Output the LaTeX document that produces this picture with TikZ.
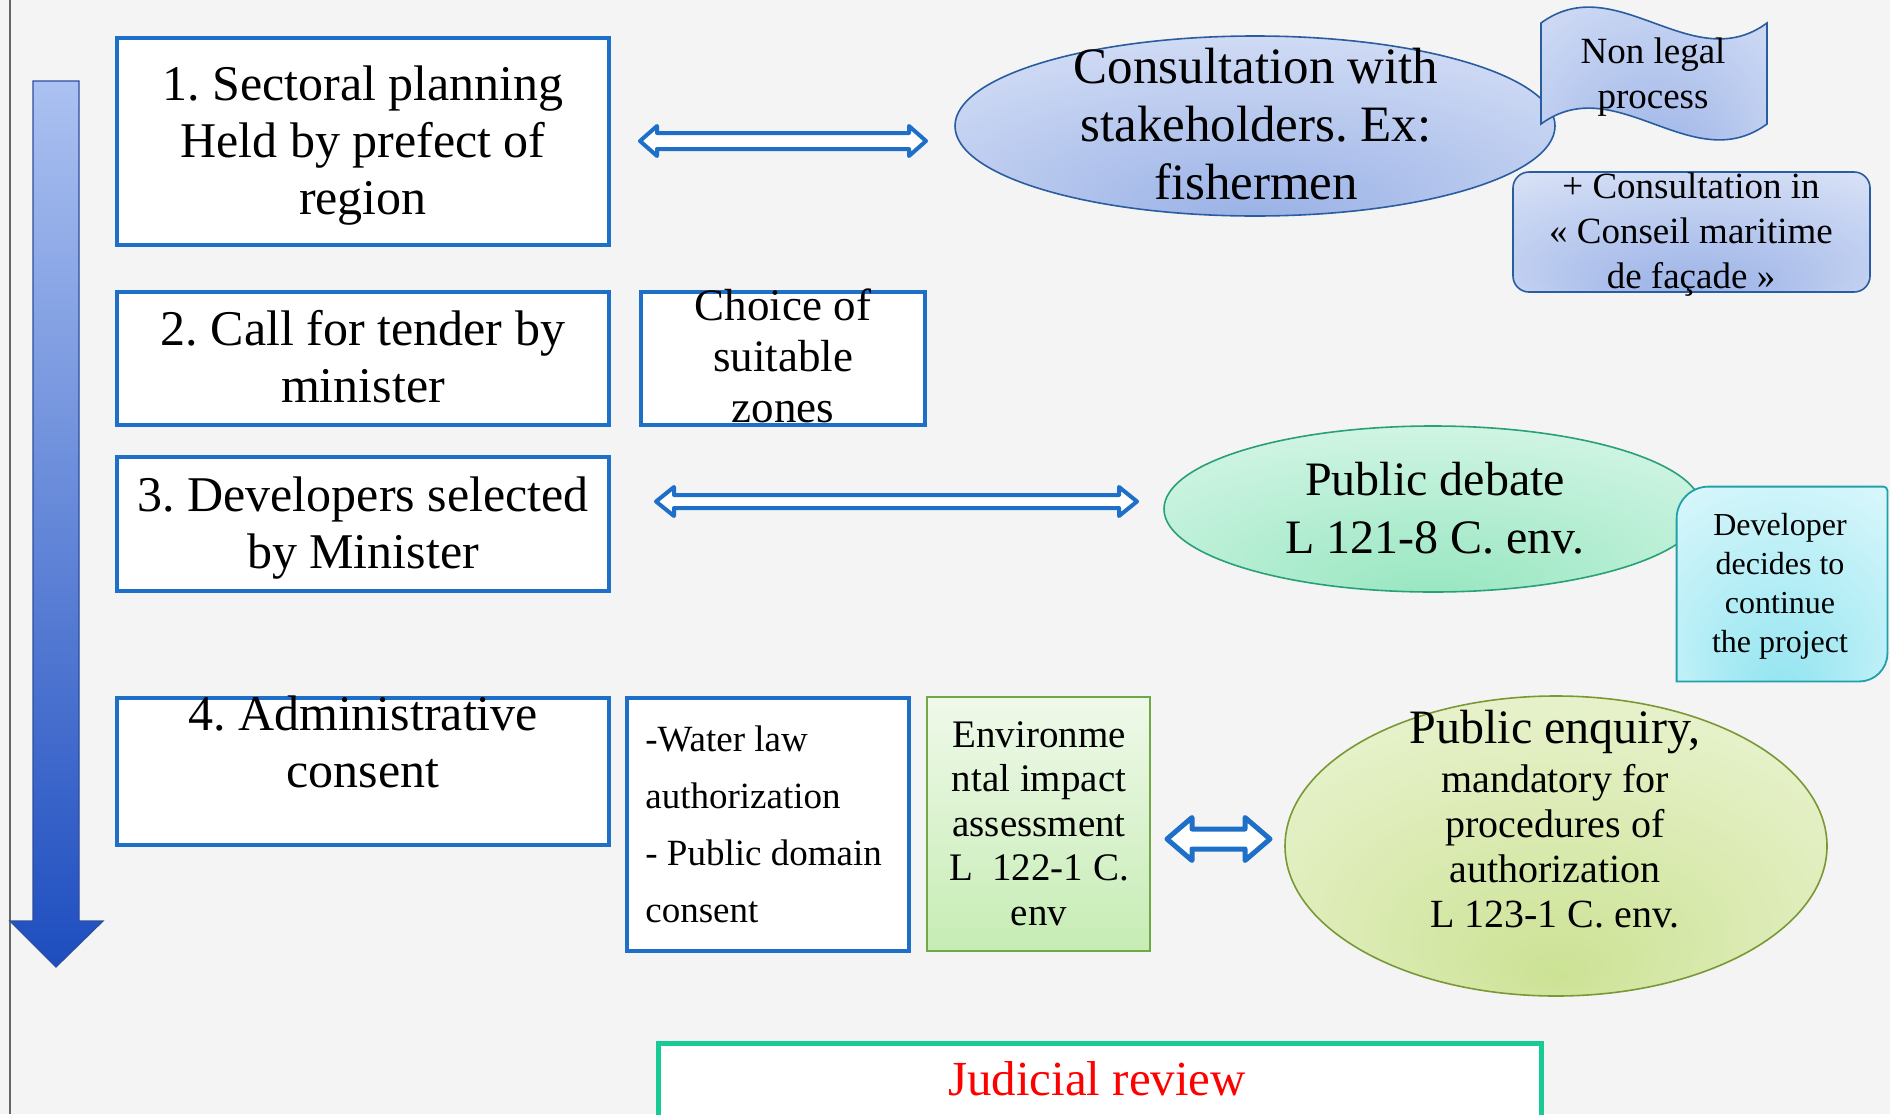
\documentclass[tikz,border=0pt]{standalone}
\usepackage{fontspec}
\setmainfont{Liberation Serif}
\usetikzlibrary{calc,shapes.geometric}
\definecolor{bgc}{RGB}{244,244,244}
\definecolor{boxblue}{RGB}{30,111,200}
\definecolor{arrtop}{RGB}{171,193,241}
\definecolor{arrbot}{RGB}{29,77,191}
\definecolor{arrline}{RGB}{43,78,158}
\definecolor{cblue}{RGB}{42,93,160}
\definecolor{cbin}{RGB}{152,176,230}
\definecolor{cbout}{RGB}{234,239,251}
\definecolor{pdline}{RGB}{40,160,120}
\definecolor{pdin}{RGB}{150,230,192}
\definecolor{pdout}{RGB}{234,251,243}
\definecolor{devline}{RGB}{32,160,170}
\definecolor{devin}{RGB}{145,228,240}
\definecolor{devout}{RGB}{236,252,254}
\definecolor{peline}{RGB}{122,152,52}
\definecolor{pein}{RGB}{204,226,148}
\definecolor{peout}{RGB}{245,250,232}
\definecolor{eialine}{RGB}{112,168,70}
\definecolor{eiatop}{RGB}{239,249,234}
\definecolor{eiabot}{RGB}{198,236,180}
\definecolor{jrline}{RGB}{24,203,150}
\pgfdeclareradialshading{shblue}{\pgfpoint{0bp}{-28bp}}{color(0bp)=(cbin); color(50bp)=(cbout)}
\pgfdeclareradialshading{shpd}{\pgfpoint{0bp}{-28bp}}{color(0bp)=(pdin); color(50bp)=(pdout)}
\pgfdeclareradialshading{shdev}{\pgfpoint{0bp}{-30bp}}{color(0bp)=(devin); color(50bp)=(devout)}
\pgfdeclareradialshading{shpe}{\pgfpoint{0bp}{-22bp}}{color(0bp)=(pein); color(50bp)=(peout)}
\newcommand\dblarrow[5]{%
  \draw[dblarr] (#1) -- ($(#1)+(#5,-#4)$) -- ($(#1)+(#5,-#3)$) -- ($(#2)+(-#5,-#3)$)
    -- ($(#2)+(-#5,-#4)$) -- (#2) -- ($(#2)+(-#5,#4)$) -- ($(#2)+(-#5,#3)$)
    -- ($(#1)+(#5,#3)$) -- ($(#1)+(#5,#4)$) -- cycle;}
\frenchspacing
\begin{document}
\begin{tikzpicture}[x=0.5pt,y=-0.5pt,
  stage/.style={rectangle, draw=boxblue, line width=2pt, fill=white, inner sep=0pt},
  bluefill/.style={draw=cblue, line width=0.8pt, shade, shading=shblue},
  dblarr/.style={draw=boxblue, line width=2pt, fill=white, line join=round},
  txt/.style={inner sep=0pt, anchor=base, align=center},
  fbig/.style={font=\fontsize{25}{28.5}\selectfont},
]
\useasboundingbox (0,0) rectangle (1890,1114);
\clip (0,0) rectangle (1890,1114);
\fill[bgc] (0,0) rectangle (1890,1114);
\draw[black!60, line width=0.8pt] (10,0) -- (10,1114);

% big downward arrow
\path[shade, top color=arrtop, bottom color=arrbot, draw=arrline, line width=0.6pt]
  (33,81) -- (79,81) -- (79,921) -- (103,921) -- (56,967) -- (10,921) -- (33,921) -- cycle;

% stage boxes
\node[stage, minimum width=246pt, minimum height=103.5pt] (s1) at (363,141.5) {};
\node[stage, minimum width=246pt, minimum height=66.5pt] (s2) at (363,358.5) {};
\node[stage, minimum width=142pt, minimum height=66.5pt] (choice) at (783,358.5) {};
\node[stage, minimum width=246pt, minimum height=67pt] (s3) at (363,524) {};
\node[stage, minimum width=246pt, minimum height=73.5pt] (s4) at (363,771.5) {};
\node[stage, minimum width=141pt, minimum height=126.5pt] (water) at (768,824.5) {};
\node[rectangle, draw=eialine, line width=1pt, top color=eiatop, bottom color=eiabot,
  minimum width=111.5pt, minimum height=127pt, inner sep=0pt] (eia) at (1038.5,824) {};
\node[rectangle, draw=jrline, line width=2.5pt, fill=white,
  minimum width=441.5pt, minimum height=48.5pt, inner sep=0pt] (jr) at (1099.5,1091.5) {};

% ellipses
\node[ellipse, bluefill, minimum width=300pt, minimum height=90pt, inner sep=0pt] (cons) at (1255,126) {};
\node[ellipse, draw=pdline, line width=0.8pt, shade, shading=shpd,
  minimum width=269pt, minimum height=83pt, inner sep=0pt] (pd) at (1433,509) {};
\node[ellipse, draw=peline, line width=0.8pt, shade, shading=shpe,
  minimum width=271pt, minimum height=150pt, inner sep=0pt] (pe) at (1556,846) {};

% wave "Non legal process"
\path[bluefill] (1541,23) .. controls (1616,-32) and (1692,78) .. (1767,23)
  -- (1767,124) .. controls (1692,179) and (1616,69) .. (1541,124) -- cycle;

% rounded box "Conseil maritime"
\node[rectangle, rounded corners=8pt, bluefill, minimum width=178.5pt, minimum height=60pt,
  inner sep=0pt] (cin) at (1691.5,232) {};

% developer box
\node[minimum width=105pt, minimum height=97pt, inner sep=0pt] (dev) at (1782,584) {};
\path[draw=devline, line width=0.9pt, shade, shading=shdev]
  (dev.south west) -- ($(dev.north west)+(0,32)$) arc[start angle=180, end angle=90, radius=16pt]
  -- ($(dev.north east)+(-4,0)$) arc[start angle=90, end angle=0, radius=2pt]
  -- ($(dev.south east)+(0,-28)$) arc[start angle=0, end angle=-90, radius=14pt] -- cycle;

% double arrows
\coordinate (a1l) at (640,141);
\coordinate (a1r) at (926,141);
\coordinate (a2l) at (656,501.5);
\coordinate (a2r) at (1137,501.5);
\coordinate (a3l) at (1167,839);
\coordinate (a3r) at (1270,839);
\dblarrow{a1l}{a1r}{8}{15}{17}
\dblarrow{a2l}{a2r}{6.5}{14.5}{18}
\begin{scope}[dblarr/.append style={line width=2.5pt}]
\dblarrow{a3l}{a3r}{10}{21.5}{25}
\end{scope}

% texts (anchor base = baseline of the last line)
\node[txt, fbig] (t1) at (363,214) {1. Sectoral planning\\Held by prefect of\\region};
\node[txt, fbig] (t2) at (363,402) {2. Call for tender by\\minister};
\node[txt, font=\fontsize{22.5}{25.5}\selectfont] (tchoice) at (783,422) {Choice of\\suitable\\zones};
\node[txt, fbig] (t3) at (363,568) {3. Developers selected\\by Minister};
\node[txt, fbig] (t4) at (363,787) {4. Administrative\\consent};
\node[inner sep=0pt, anchor=base west, align=left, font=\fontsize{18.5}{28.5}\selectfont] (twater) at (645,922)
  {-Water law\\authorization\\- Public domain\\consent};
\node[txt, font=\fontsize{19.5}{22.25}\selectfont] (teia) at (1039,925)
  {Environme\\ntal impact\\assessment\\L\ \ 122-1 C.\\env};
\node[txt, font=\fontsize{25.5}{29}\selectfont] (tcons) at (1256,199)
  {Consultation with\\stakeholders. Ex:\\fishermen};
\node[txt, font=\fontsize{18.5}{22.5}\selectfont] (tnl) at (1653,108) {Non legal\\process};
\node[txt, font=\fontsize{18.5}{22.5}\selectfont] (tcin) at (1691,288)
  {+ Consultation in\\« Conseil maritime\\de façade »};
\node[txt, font=\fontsize{24}{29}\selectfont] (tpd) at (1435,553) {Public debate\\L 121-8 C. env.};
\node[txt, font=\fontsize{16}{19.5}\selectfont] (tdev) at (1780,652)
  {Developer\\decides to\\continue\\the project};
\node[txt, font=\fontsize{24}{29}\selectfont] (tpe1) at (1555,743) {Public enquiry,};
\node[txt, font=\fontsize{20}{22.5}\selectfont] (tpe2) at (1555,927)
  {mandatory for\\procedures of\\authorization\\L 123-1 C. env.};
\node[txt, text=red, font=\fontsize{24.5}{29}\selectfont] (tjr) at (1097,1095) {Judicial review};
\end{tikzpicture}
\end{document}
